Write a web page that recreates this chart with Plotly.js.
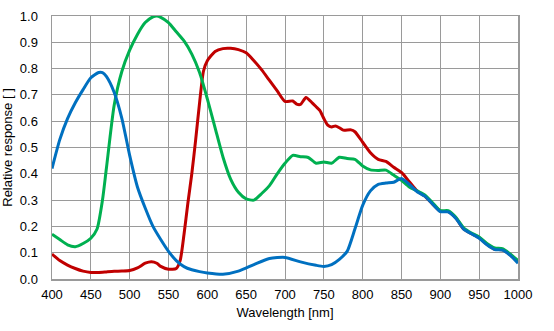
<!DOCTYPE html>
<html>
<head>
<meta charset="utf-8">
<script src="https://cdn.plot.ly/plotly-3.0.1.min.js"></script>
<style>html,body{margin:0;padding:0;background:#fff;}#chart{width:554px;height:331px;}</style>
</head>
<body>
<div id="chart"></div>
<script>
const redX = [400,410,420,430,440,450,460,470,480,490,500,510,520,528,535,540,550,560,565,570,575,580,585,590,595,600,610,620,630,640,650,660,670,680,690,700,710,715,720,727,735,740,745,750,755,760,765,770,775,785,790,800,810,820,830,840,850,860,870,880,890,900,910,920,930,940,950,960,970,980,990,1000];
const redY = [0.095,0.07,0.053,0.04,0.03,0.025,0.025,0.027,0.029,0.03,0.032,0.042,0.06,0.066,0.06,0.048,0.037,0.04,0.07,0.17,0.29,0.40,0.53,0.67,0.79,0.83,0.865,0.876,0.877,0.872,0.86,0.83,0.795,0.755,0.715,0.675,0.677,0.665,0.664,0.69,0.67,0.655,0.64,0.61,0.585,0.578,0.582,0.575,0.566,0.567,0.56,0.52,0.48,0.455,0.447,0.425,0.405,0.37,0.335,0.315,0.285,0.258,0.256,0.232,0.19,0.172,0.157,0.132,0.113,0.111,0.092,0.065];

const greenX = [400,410,420,430,440,450,458,465,470,480,490,500,510,520,530,535,540,550,560,570,580,590,600,610,620,630,640,650,660,670,680,690,700,710,720,730,740,750,760,770,780,790,800,810,820,830,840,850,860,870,880,890,900,910,920,930,940,950,960,970,980,990,1000];
const greenY = [0.17,0.15,0.13,0.123,0.135,0.155,0.19,0.30,0.42,0.66,0.79,0.87,0.93,0.975,0.997,1.0,0.995,0.975,0.94,0.905,0.855,0.785,0.685,0.575,0.465,0.38,0.33,0.305,0.30,0.325,0.355,0.40,0.44,0.47,0.465,0.462,0.44,0.445,0.44,0.463,0.458,0.455,0.43,0.415,0.413,0.414,0.395,0.375,0.35,0.335,0.32,0.29,0.26,0.26,0.235,0.195,0.175,0.16,0.135,0.118,0.115,0.095,0.07];

const blueX = [400,410,420,430,440,450,460,465,470,480,490,500,510,520,530,540,550,560,570,580,590,600,620,640,660,680,700,720,740,750,760,770,780,790,800,810,820,830,840,850,860,870,880,890,900,910,920,930,940,950,960,970,980,990,1000];
const blueY = [0.42,0.53,0.61,0.67,0.72,0.765,0.785,0.785,0.77,0.71,0.61,0.47,0.35,0.27,0.20,0.15,0.105,0.07,0.047,0.035,0.028,0.023,0.018,0.03,0.055,0.078,0.082,0.065,0.052,0.048,0.055,0.075,0.105,0.19,0.28,0.335,0.36,0.365,0.368,0.382,0.36,0.332,0.315,0.285,0.256,0.255,0.23,0.19,0.172,0.155,0.13,0.112,0.11,0.09,0.06];

const xTicks = [400,450,500,550,600,650,700,750,800,850,900,950,1000];
const yTicks = [0,0.1,0.2,0.3,0.4,0.5,0.6,0.7,0.8,0.9,1.0];

const lineW = 3;
const traces = [
  {x: redX, y: redY, name: 'Red', line: {color: '#C00000', width: lineW, shape: 'spline', smoothing: 0.6}},
  {x: greenX, y: greenY, name: 'Green', line: {color: '#00B050', width: lineW, shape: 'spline', smoothing: 0.6}},
  {x: blueX, y: blueY, name: 'Blue', line: {color: '#0070C0', width: lineW, shape: 'spline', smoothing: 0.6}}
].map(t => Object.assign({type: 'scatter', mode: 'lines', hoverinfo: 'skip'}, t));

const font = {family: 'Liberation Sans, Arial, sans-serif', size: 13, color: '#000'};
const layout = {
  width: 554, height: 331,
  margin: {l: 52, r: 36, t: 16, b: 52},
  paper_bgcolor: '#fff', plot_bgcolor: '#fff',
  showlegend: false,
  font: font,
  xaxis: {
    range: [400, 1000], tickvals: xTicks, ticktext: xTicks.map(String),
    showgrid: true, gridcolor: '#9a9a9a', gridwidth: 1,
    showline: true, linecolor: '#9a9a9a', linewidth: 1.5, mirror: true,
    zeroline: false, ticks: 'outside', ticklen: 3, tickcolor: 'rgba(0,0,0,0)',
    title: {text: 'Wavelength [nm]', font: font, standoff: 7}
  },
  yaxis: {
    range: [0, 1.0], tickvals: yTicks, ticktext: yTicks.map(v => v.toFixed(1)),
    showgrid: true, gridcolor: '#9a9a9a', gridwidth: 1,
    showline: true, linecolor: '#9a9a9a', linewidth: 1.5, mirror: true,
    zeroline: false, ticks: 'outside', ticklen: 10, tickcolor: 'rgba(0,0,0,0)',
    title: {text: 'Relative response [ ]', font: font, standoff: 4}
  }
};
Plotly.newPlot('chart', traces, layout, {staticPlot: true, displayModeBar: false});
</script>
</body>
</html>
